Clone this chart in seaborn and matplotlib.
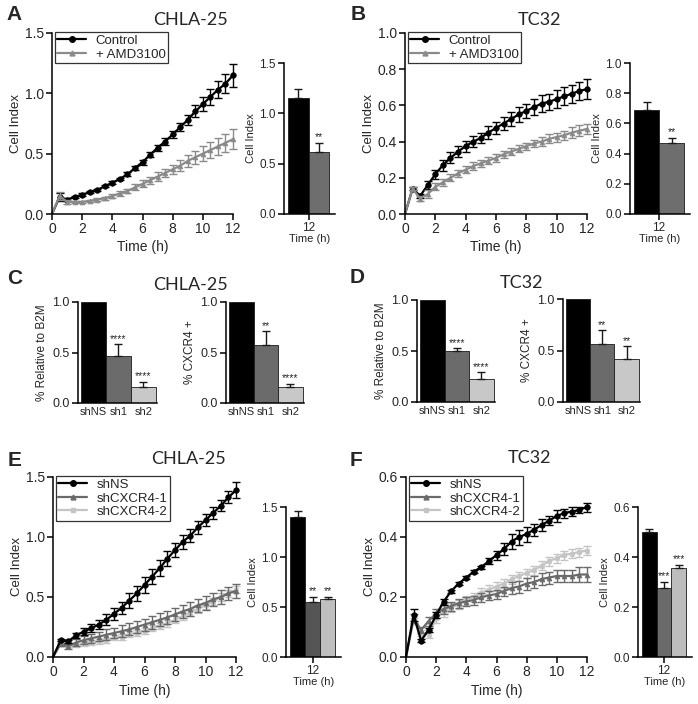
import numpy as np
import pandas as pd
import matplotlib
matplotlib.use('Agg')
import matplotlib.pyplot as plt
from matplotlib.lines import Line2D
import seaborn as sns

sns.set_style('ticks')
plt.rcParams['font.family'] = ['Liberation Sans', 'DejaVu Sans']

# --- data ---
TIME = [0, 0.5, 1, 1.5, 2, 2.5, 3, 3.5, 4, 4.5, 5, 5.5, 6, 6.5, 7, 7.5, 8, 8.5,
        9, 9.5, 10, 10.5, 11, 11.5, 12]

# A: CHLA-25, AMD3100
a_ctrl = [0, 0.14, 0.12, 0.14, 0.16, 0.18, 0.20, 0.23, 0.26, 0.29, 0.33, 0.38, 0.43,
          0.49, 0.55, 0.60, 0.66, 0.72, 0.78, 0.85, 0.91, 0.97, 1.03, 1.08, 1.15]
a_ctrl_err = [0, 0.03, 0.01, 0.01, 0.01, 0.01, 0.01, 0.01, 0.01, 0.01, 0.015, 0.015, 0.02,
              0.02, 0.025, 0.03, 0.03, 0.035, 0.04, 0.05, 0.06, 0.07, 0.07, 0.08, 0.095]
a_amd = [0, 0.15, 0.10, 0.10, 0.10, 0.11, 0.12, 0.13, 0.15, 0.17, 0.19, 0.22, 0.25,
         0.28, 0.31, 0.34, 0.37, 0.40, 0.44, 0.47, 0.50, 0.53, 0.56, 0.59, 0.62]
a_amd_err = [0, 0.03, 0.02, 0.01, 0.01, 0.01, 0.01, 0.01, 0.015, 0.02, 0.02, 0.025, 0.03,
             0.03, 0.035, 0.035, 0.04, 0.045, 0.05, 0.055, 0.06, 0.065, 0.07, 0.075, 0.085]
a_bar = [1.15, 0.62]
a_bar_err = [0.09, 0.085]

# B: TC32, AMD3100
b_ctrl = [0, 0.14, 0.10, 0.16, 0.22, 0.27, 0.31, 0.345, 0.375, 0.40, 0.42, 0.45, 0.475,
          0.50, 0.525, 0.55, 0.57, 0.59, 0.61, 0.62, 0.635, 0.65, 0.665, 0.68, 0.69]
b_ctrl_err = [0, 0.01, 0.01, 0.02, 0.025, 0.03, 0.03, 0.03, 0.03, 0.03, 0.03, 0.035, 0.035,
              0.035, 0.04, 0.04, 0.04, 0.045, 0.045, 0.045, 0.05, 0.05, 0.05, 0.05, 0.055]
b_amd = [0, 0.14, 0.085, 0.11, 0.15, 0.175, 0.20, 0.225, 0.245, 0.265, 0.28, 0.295, 0.31,
         0.33, 0.345, 0.36, 0.375, 0.39, 0.40, 0.415, 0.425, 0.435, 0.45, 0.46, 0.47]
b_amd_err = [0, 0.01, 0.015, 0.02, 0.02, 0.02, 0.02, 0.02, 0.02, 0.02, 0.02, 0.02, 0.02,
             0.02, 0.02, 0.02, 0.02, 0.02, 0.025, 0.025, 0.025, 0.025, 0.03, 0.03, 0.03]
b_bar = [0.69, 0.47]
b_bar_err = [0.055, 0.035]

# C / D: knockdown
kd_labels = ['shNS', 'sh1', 'sh2']
c_b2m = [1.0, 0.47, 0.16]
c_b2m_err = [0, 0.11, 0.05]
c_b2m_stars = ['', '****', '****']
c_cxcr4 = [1.0, 0.57, 0.16]
c_cxcr4_err = [0, 0.14, 0.03]
c_cxcr4_stars = ['', '**', '****']
d_b2m = [1.0, 0.50, 0.23]
d_b2m_err = [0, 0.025, 0.065]
d_b2m_stars = ['', '****', '****']
d_cxcr4 = [1.0, 0.56, 0.42]
d_cxcr4_err = [0, 0.14, 0.12]
d_cxcr4_stars = ['', '**', '**']

# E: CHLA-25 shRNA
e_ns = [0, 0.14, 0.13, 0.18, 0.21, 0.24, 0.27, 0.31, 0.36, 0.41, 0.47, 0.53, 0.60,
        0.67, 0.74, 0.82, 0.89, 0.96, 1.01, 1.08, 1.14, 1.20, 1.26, 1.33, 1.39]
e_ns_err = [0, 0.01, 0.01, 0.02, 0.03, 0.035, 0.04, 0.045, 0.05, 0.05, 0.06, 0.06, 0.065,
            0.065, 0.065, 0.065, 0.06, 0.06, 0.055, 0.055, 0.05, 0.05, 0.045, 0.05, 0.065]
e_sh1 = [0, 0.11, 0.09, 0.12, 0.14, 0.155, 0.17, 0.185, 0.20, 0.215, 0.23, 0.25, 0.27,
         0.29, 0.31, 0.33, 0.355, 0.38, 0.40, 0.43, 0.45, 0.48, 0.50, 0.53, 0.55]
e_sh1_err = [0, 0.02, 0.02, 0.03, 0.035, 0.04, 0.04, 0.045, 0.045, 0.05, 0.05, 0.05, 0.05,
             0.055, 0.055, 0.055, 0.055, 0.055, 0.055, 0.055, 0.055, 0.055, 0.055, 0.055, 0.055]
e_sh2 = [0, 0.11, 0.09, 0.10, 0.11, 0.12, 0.13, 0.14, 0.16, 0.17, 0.19, 0.20, 0.22,
         0.24, 0.26, 0.28, 0.31, 0.34, 0.37, 0.40, 0.43, 0.46, 0.50, 0.53, 0.56]
e_sh2_err = [0, 0.01, 0.01, 0.015, 0.02, 0.02, 0.02, 0.02, 0.02, 0.025, 0.025, 0.025, 0.025,
             0.025, 0.025, 0.03, 0.03, 0.03, 0.03, 0.03, 0.03, 0.03, 0.03, 0.03, 0.03]
e_bar = [1.40, 0.55, 0.58]
e_bar_err = [0.06, 0.05, 0.02]
e_bar_stars = ['', '**', '**']

# F: TC32 shRNA
f_ns = [0, 0.14, 0.055, 0.09, 0.14, 0.185, 0.22, 0.245, 0.265, 0.285, 0.30, 0.32, 0.34,
        0.36, 0.385, 0.40, 0.41, 0.425, 0.44, 0.455, 0.47, 0.48, 0.485, 0.49, 0.50]
f_ns_err = [0, 0.02, 0.005, 0.008, 0.01, 0.01, 0.005, 0.005, 0.005, 0.005, 0.005, 0.01, 0.015,
            0.02, 0.025, 0.025, 0.025, 0.02, 0.02, 0.015, 0.02, 0.015, 0.015, 0.01, 0.015]
f_sh1 = [0, 0.13, 0.09, 0.12, 0.145, 0.16, 0.17, 0.18, 0.185, 0.19, 0.20, 0.205, 0.21,
         0.22, 0.23, 0.235, 0.245, 0.25, 0.26, 0.265, 0.27, 0.27, 0.27, 0.275, 0.275]
f_sh1_err = [0, 0.015, 0.01, 0.015, 0.015, 0.015, 0.015, 0.015, 0.015, 0.015, 0.015, 0.015, 0.015,
             0.015, 0.02, 0.02, 0.02, 0.02, 0.02, 0.02, 0.02, 0.02, 0.02, 0.025, 0.025]
f_sh2 = [0, 0.12, 0.08, 0.075, 0.13, 0.15, 0.165, 0.175, 0.19, 0.20, 0.215, 0.225, 0.235,
         0.245, 0.26, 0.27, 0.28, 0.29, 0.305, 0.32, 0.33, 0.34, 0.345, 0.35, 0.355]
f_sh2_err = [0, 0.01, 0.01, 0.01, 0.015, 0.015, 0.015, 0.015, 0.015, 0.015, 0.015, 0.015, 0.015,
             0.015, 0.015, 0.015, 0.015, 0.015, 0.015, 0.015, 0.015, 0.015, 0.015, 0.015, 0.015]
f_bar = [0.50, 0.275, 0.355]
f_bar_err = [0.013, 0.025, 0.015]
f_bar_stars = ['', '***', '***']

W, H = 698, 704
fig = plt.figure(figsize=(W / 100, H / 100), dpi=100)


def px_axes(l, t, r, b):
    return fig.add_axes([l / W, 1 - b / H, (r - l) / W, (b - t) / H])


def style_axes(ax):
    sns.despine(ax=ax)
    for s in ['left', 'bottom']:
        ax.spines[s].set_linewidth(1.1)
        ax.spines[s].set_color('black')
    ax.tick_params(direction='out', length=4, width=1.1, color='black', pad=2)


def line_panel(ax, series, ymax, ystep, legend_order=None):
    handles = []
    for mean, err, color, marker, ms, lbl in series:
        sns.lineplot(x=TIME, y=mean, color=color, marker=marker, markersize=ms,
                     markevery=slice(1, None), markeredgecolor=color, markeredgewidth=0.5,
                     linewidth=1.6, errorbar=None, legend=False, ax=ax, clip_on=False)
        ax.errorbar(TIME[1:], mean[1:], yerr=err[1:], fmt='none', ecolor=color,
                    elinewidth=1.0, capsize=3, capthick=1.0, clip_on=False)
        handles.append(Line2D([0], [0], color=color, marker=marker, markersize=ms,
                              markeredgecolor=color, linewidth=1.6, label=lbl))
    if legend_order is not None:
        handles = [handles[i] for i in legend_order]
    ax.set_xlim(0, 12)
    ax.set_ylim(0, ymax)
    ax.set_xticks([0, 2, 4, 6, 8, 10, 12])
    ax.set_yticks(np.arange(0, ymax + 1e-9, ystep))
    ax.set_xlabel('Time (h)', fontsize=10, labelpad=3)
    ax.set_ylabel('Cell Index', fontsize=9.5, labelpad=2)
    ax.tick_params(labelsize=10)
    style_axes(ax)
    leg = ax.legend(handles=handles, loc='upper left', bbox_to_anchor=(0.015, 1.005),
                    frameon=True, fancybox=False, edgecolor='black', fontsize=9.5,
                    numpoints=1, handlelength=2.2, borderpad=0.2, labelspacing=0.1,
                    handletextpad=0.7, borderaxespad=0)
    leg.get_frame().set_linewidth(0.9)


def inset_bars(ax, vals, errs, colors, stars, ymax, ystep, width_px, gap_l=4, gap_r=6):
    groups = ['g%d' % i for i in range(len(vals))]
    sns.barplot(x=['12'] * len(vals), y=vals, hue=groups, palette=colors, width=0.8,
                edgecolor='#1a1a1a', linewidth=0.6, errorbar=None, legend=False, ax=ax)
    xs = [p.get_x() + p.get_width() / 2 for p in ax.patches]
    ax.errorbar(xs, vals, yerr=[[0] * len(vals), errs], fmt='none', ecolor='#1a1a1a',
                elinewidth=1.0, capsize=3, capthick=1.0)
    for x, v, e, s in zip(xs, vals, errs, stars):
        if s:
            ax.text(x, v + e + ymax * 0.003, s, ha='center', va='bottom', fontsize=7.5)
    ppu = (width_px - gap_l - gap_r) / 0.8
    ax.set_xlim(-0.4 - gap_l / ppu, 0.4 + gap_r / ppu)
    ax.set_ylim(0, ymax)
    ax.set_yticks(np.arange(0, ymax + 1e-9, ystep))
    ax.set_xticks([0])
    ax.set_xticklabels(['12'])
    ax.set_xlabel('Time (h)', fontsize=8, labelpad=0)
    ax.set_ylabel('Cell Index', fontsize=8, labelpad=2)
    ax.tick_params(labelsize=8.5)
    ax.tick_params(axis='x', labelsize=8.5)
    style_axes(ax)


def kd_bars(ax, vals, errs, colors, stars, ylabel):
    sns.barplot(x=kd_labels, y=vals, hue=kd_labels, palette=colors, width=1.0,
                edgecolor='#1a1a1a', linewidth=0.6, errorbar=None, legend=False, ax=ax)
    xs = [0, 1, 2]
    ax.errorbar(xs[1:], vals[1:], yerr=[[0, 0], errs[1:]], fmt='none', ecolor='#1a1a1a',
                elinewidth=1.0, capsize=3, capthick=1.0)
    for x, v, e, s in zip(xs, vals, errs, stars):
        if s:
            ax.text(x, v + e + 0.003, s, ha='center', va='bottom', fontsize=7.5)
    ax.set_xlim(-0.62, 2.55)
    ax.set_ylim(0, 1.0)
    ax.set_yticks([0, 0.5, 1.0])
    ax.set_ylabel(ylabel, fontsize=8.5, labelpad=3)
    ax.set_xlabel('')
    ax.tick_params(labelsize=9)
    style_axes(ax)
    ax.tick_params(axis='x', length=0, pad=3, labelsize=8)


BLACK = '#000000'

# --- panel A ---
ax = px_axes(52, 33, 233, 214)
line_panel(ax, [(a_ctrl, a_ctrl_err, BLACK, 'o', 4, 'Control'),
                (a_amd, a_amd_err, '#8a8a8a', '^', 3.5, '+ AMD3100')], 1.5, 0.5)
ax = px_axes(284, 63, 335, 214)
inset_bars(ax, a_bar, a_bar_err, [BLACK, '#6e6e6e'], ['', '**'], 1.5, 0.5, 51)

# --- panel B ---
ax = px_axes(405, 33, 587, 214)
line_panel(ax, [(b_ctrl, b_ctrl_err, BLACK, 'o', 4, 'Control'),
                (b_amd, b_amd_err, '#8a8a8a', '^', 3.5, '+ AMD3100')], 1.0, 0.2)
ax = px_axes(630, 63, 690, 214)
inset_bars(ax, b_bar, b_bar_err, [BLACK, '#6e6e6e'], ['', '**'], 1.0, 0.2, 60)

# --- panel C ---
kd_colors = [BLACK, '#6b6b6b', '#c8c8c8']
ax = px_axes(78, 302, 157, 403)
kd_bars(ax, c_b2m, c_b2m_err, kd_colors, c_b2m_stars, '% Relative to B2M')
ax = px_axes(226, 302, 304, 403)
kd_bars(ax, c_cxcr4, c_cxcr4_err, kd_colors, c_cxcr4_stars, '% CXCR4 +')

# --- panel D ---
ax = px_axes(417, 300, 495, 402)
kd_bars(ax, d_b2m, d_b2m_err, kd_colors, d_b2m_stars, '% Relative to B2M')
ax = px_axes(563, 299, 640, 402)
kd_bars(ax, d_cxcr4, d_cxcr4_err, kd_colors, d_cxcr4_stars, '% CXCR4 +')

# --- panel E ---
ax = px_axes(53, 477, 236, 657)
line_panel(ax, [(e_sh2, e_sh2_err, '#c4c4c4', 's', 3.5, 'shCXCR4-2'),
                (e_sh1, e_sh1_err, '#6a6a6a', '^', 3.5, 'shCXCR4-1'),
                (e_ns, e_ns_err, BLACK, 'o', 4, 'shNS')], 1.5, 0.5, legend_order=[2, 1, 0])
ax = px_axes(286, 507, 341, 657)
inset_bars(ax, e_bar, e_bar_err, [BLACK, '#555555', '#bfbfbf'], e_bar_stars, 1.5, 0.5, 55)

# --- panel F ---
ax = px_axes(406, 477, 587, 657)
line_panel(ax, [(f_sh2, f_sh2_err, '#c4c4c4', 's', 3.5, 'shCXCR4-2'),
                (f_sh1, f_sh1_err, '#6a6a6a', '^', 3.5, 'shCXCR4-1'),
                (f_ns, f_ns_err, BLACK, 'o', 4, 'shNS')], 0.6, 0.2, legend_order=[2, 1, 0])
ax = px_axes(638, 507, 692, 657)
inset_bars(ax, f_bar, f_bar_err, [BLACK, '#6a6a6a', '#bdbdbd'], f_bar_stars, 0.6, 0.2, 54)

# --- titles and panel letters ---
titles = [('CHLA-25', 191, 20), ('TC32', 539, 20), ('CHLA-25', 191, 285),
          ('TC32', 521, 283), ('CHLA-25', 189, 459), ('TC32', 529, 458)]
for txt, x, y in titles:
    fig.text(x / W, 1 - y / H, txt, ha='center', va='center', fontsize=13,
             family=['Lato', 'DejaVu Sans'])
letters = [('A', 14, 15), ('B', 358, 15), ('C', 15, 279), ('D', 357, 277),
           ('E', 15, 460), ('F', 356, 460)]
for txt, x, y in letters:
    fig.text(x / W, 1 - y / H, txt, ha='center', va='center', fontsize=15,
             fontweight='bold')

fig.savefig('out.png', dpi=100)
